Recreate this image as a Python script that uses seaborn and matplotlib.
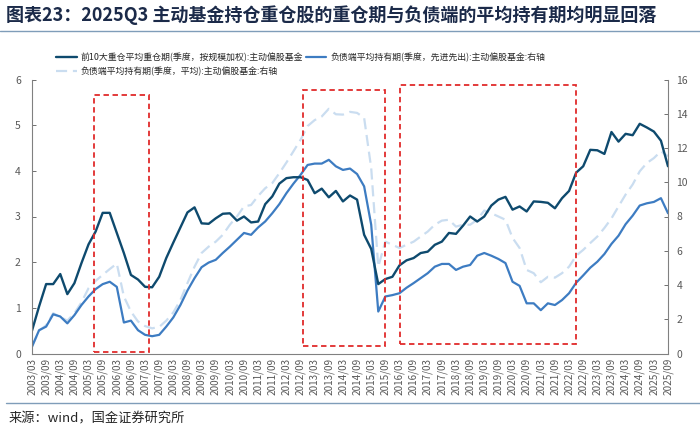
import matplotlib
matplotlib.use("Agg")
import matplotlib.pyplot as plt
from matplotlib.patches import Rectangle
from matplotlib.lines import Line2D
import seaborn as sns
import pandas as pd
import numpy as np

sns.set_style("white")
plt.rcParams['font.family'] = ['Noto Sans CJK SC', 'DejaVu Sans']
plt.rcParams['axes.unicode_minus'] = False

quarters = [f"{p.year}/{p.quarter*3:02d}" for p in pd.period_range("2003Q1", "2025Q3", freq="Q")]

# 前10大重仓平均重仓期 (left axis)
top10_hold = [0.50, 1.03, 1.52, 1.52, 1.74, 1.30, 1.54, 1.98, 2.39, 2.67,
              3.08, 3.08, 2.64, 2.20, 1.72, 1.62, 1.46, 1.45, 1.68, 2.09,
              2.43, 2.76, 3.09, 3.20, 2.85, 2.84, 2.96, 3.06, 3.07, 2.91,
              3.00, 2.87, 2.89, 3.27, 3.44, 3.72, 3.84, 3.86, 3.86, 3.80,
              3.51, 3.61, 3.42, 3.56, 3.33, 3.46, 3.37, 2.60, 2.29, 1.52,
              1.63, 1.68, 1.93, 2.04, 2.09, 2.20, 2.23, 2.38, 2.45, 2.64,
              2.62, 2.80, 3.00, 2.89, 3.00, 3.24, 3.37, 3.43, 3.15, 3.22,
              3.11, 3.33, 3.32, 3.30, 3.18, 3.40, 3.56, 3.96, 4.10, 4.46,
              4.45, 4.37, 4.85, 4.64, 4.81, 4.78, 5.03, 4.95, 4.86, 4.66,
              4.10]

# 负债端平均持有期(先进先出) (right axis)
fifo_hold = [0.40, 1.36, 1.57, 2.29, 2.16, 1.76, 2.24, 2.83, 3.33, 3.76,
             4.05, 4.19, 3.89, 1.81, 1.92, 1.36, 1.09, 1.01, 1.09, 1.57,
             2.11, 2.83, 3.68, 4.40, 5.04, 5.31, 5.47, 5.87, 6.24, 6.64,
             7.04, 6.93, 7.36, 7.71, 8.19, 8.72, 9.36, 9.92, 10.43, 11.01,
             11.09, 11.09, 11.31, 10.93, 10.72, 10.80, 10.48, 9.76, 7.52, 2.45,
             3.33, 3.41, 3.52, 3.84, 4.11, 4.40, 4.69, 5.07, 5.23, 5.23,
             4.88, 5.07, 5.17, 5.71, 5.87, 5.71, 5.52, 5.28, 4.19, 3.95,
             2.93, 2.93, 2.53, 2.93, 2.83, 3.12, 3.52, 4.13, 4.56, 5.01,
             5.36, 5.81, 6.40, 6.88, 7.55, 8.05, 8.64, 8.77, 8.85, 9.07,
             8.19]

# 负债端平均持有期(平均) (right axis)
avg_hold = [0.40, 1.33, 1.65, 2.35, 2.13, 1.92, 2.35, 2.99, 3.81, 4.24,
            4.59, 4.93, 5.25, 3.33, 2.45, 1.87, 1.60, 1.47, 1.55, 1.92,
            2.40, 3.12, 4.11, 5.07, 5.87, 6.24, 6.53, 6.93, 7.52, 8.00,
            8.59, 8.67, 9.20, 9.65, 9.95, 10.53, 11.15, 11.81, 12.48, 13.28,
            13.63, 13.84, 14.29, 13.97, 13.95, 14.11, 14.05, 13.76, 10.83, 5.07,
            6.53, 6.35, 6.16, 6.35, 6.53, 6.83, 7.12, 7.52, 7.76, 7.81,
            7.41, 7.52, 7.52, 7.81, 8.35, 8.19, 8.00, 7.81, 6.75, 6.16,
            4.88, 4.69, 4.16, 4.48, 4.43, 4.69, 5.07, 5.71, 6.05, 6.45,
            6.83, 7.33, 7.89, 8.59, 9.28, 9.87, 10.64, 11.12, 11.41, 11.81,
            11.52]

series_names = ["前10大重仓平均重仓期(季度，按规模加权):主动偏股基金",
                "负债端平均持有期(季度，先进先出):主动偏股基金:右轴",
                "负债端平均持有期(季度，平均):主动偏股基金:右轴"]

# highlighted periods: (start index, end index, bottom, top) in left-axis units
boxes = [(8.77, 16.55, 0.03, 5.67),
         (38.3, 50.0, 0.16, 5.78),
         (52.1, 77.0, 0.21, 5.87)]

df = pd.DataFrame({"pos": np.arange(len(quarters)), "quarter": quarters,
                   "top10": top10_hold, "fifo": fifo_hold, "avg": avg_hold})

c_dark = "#0E4A6E"
c_mid = "#3D7CC2"
c_light = "#CADDF0"
c_red = "#E02B2B"
grey = "#595959"

fig = plt.figure(figsize=(7.0, 4.29), dpi=100)
ax = fig.add_axes([32/700, 1-353.5/429, 636/700, 274/429])
ax2 = ax.twinx()

sns.lineplot(data=df, x="pos", y="avg", ax=ax2, color=c_light, lw=1.6,
             linestyle=(0, (5, 2.6)), legend=False)
sns.lineplot(data=df, x="pos", y="fifo", ax=ax2, color=c_mid, lw=1.6, legend=False)
sns.lineplot(data=df, x="pos", y="top10", ax=ax, color=c_dark, lw=1.7, legend=False)
ax.set_zorder(ax2.get_zorder() + 1)
ax.patch.set_visible(False)

for x0, x1, y0, y1 in boxes:
    ax.add_patch(Rectangle((x0, y0), x1 - x0, y1 - y0, fill=False, ec=c_red,
                           lw=1.3, ls=(0, (3, 2)), zorder=5))

ax.set_xlim(0, len(quarters) - 1)
ax.set_ylim(0, 6)
ax2.set_ylim(0, 16)
ax.set_yticks(range(0, 7))
ax2.set_yticks(range(0, 17, 2))
ticks = list(range(0, len(quarters), 2))
ax.set_xticks(ticks)
ax.set_xticklabels([quarters[i] for i in ticks], rotation=90)
ax.set_xlabel("")
ax.set_ylabel("")
ax2.set_ylabel("")

for a in (ax, ax2):
    a.tick_params(axis="both", labelsize=7.5, colors=grey, direction="in", length=3, width=0.6)
    for s in a.spines.values():
        s.set_color("#808080")
        s.set_linewidth(0.8)
    a.spines["top"].set_visible(False)
ax.spines["right"].set_visible(False)
ax2.spines["left"].set_visible(False)
ax2.spines["bottom"].set_visible(False)
ax.tick_params(axis="x", labelsize=7.2, pad=3)
ax.tick_params(axis="y", pad=8)
ax2.tick_params(axis="y", pad=6)

handles = [Line2D([], [], color=c_dark, lw=1.7),
           Line2D([], [], color=c_light, lw=1.6, ls=(0, (5, 2.6))),
           Line2D([], [], color=c_mid, lw=1.6)]
labels = [series_names[0], series_names[2], series_names[1]]
fig.legend(handles, labels, loc="upper left", bbox_to_anchor=(0.069, 0.895), ncol=2,
           frameon=False, fontsize=6.4, handlelength=2.3, handletextpad=0.45,
           columnspacing=0.3, labelspacing=0.45, labelcolor="#262626")

fig.text(0.008, 0.965, "图表23：2025Q3 主动基金持仓重仓股的重仓期与负债端的平均持有期均明显回落",
         fontsize=13, fontweight="bold", color="#1B2A49", va="center", ha="left", style="italic")
fig.add_artist(Line2D([0, 1], [1-31/429, 1-31/429], color="#7F9DB9", lw=1.0))
fig.add_artist(Line2D([6/700, 1], [1-402.5/429, 1-402.5/429], color="#7F9DB9", lw=1.0))
fig.text(0.012, 1-419/429, "来源：wind，国金证券研究所", fontsize=9.5, color="#262626", va="center")

fig.savefig("out.png", dpi=100)
